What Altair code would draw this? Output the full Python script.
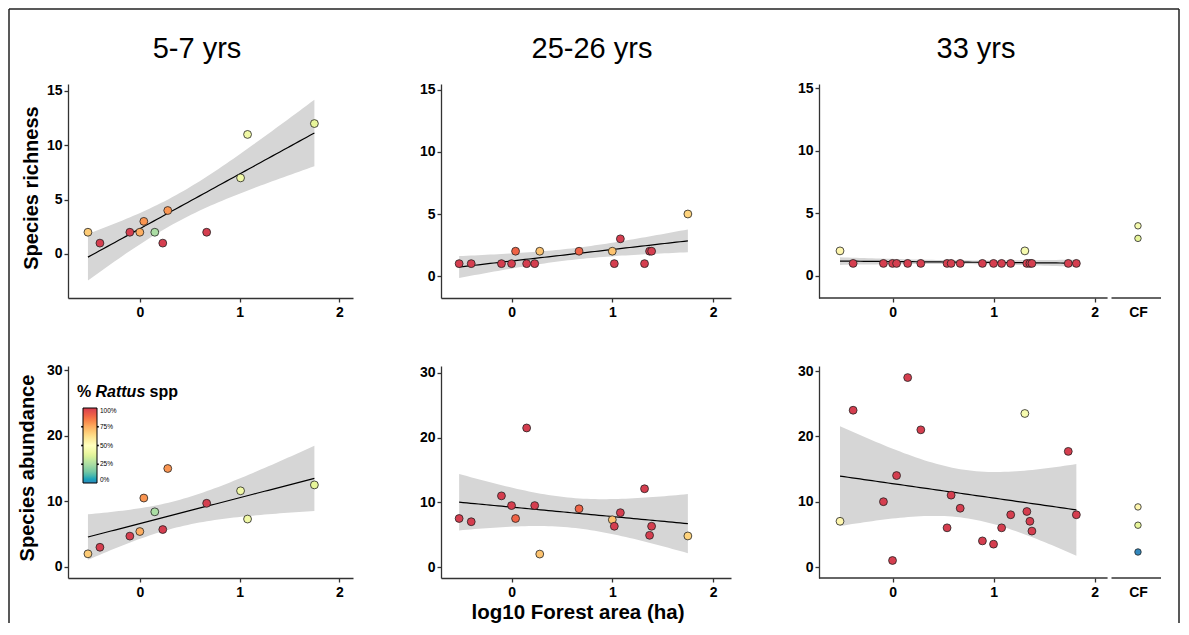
import altair as alt
import numpy as np
import pandas as pd

# ---------------- data ----------------
# 5-7 yrs sites
x_57 = [-0.52, -0.40, -0.10, 0.00, 0.04, 0.15, 0.23, 0.28, 0.67, 1.01, 1.08, 1.75]
rich_57 = [2, 1, 2, 2, 3, 2, 1, 4, 2, 7, 11, 12]
abund_57 = [2.0, 3.0, 4.7, 5.4, 10.5, 8.4, 5.7, 15.0, 9.7, 11.6, 7.3, 12.5]
rattus_57 = [68, 100, 100, 75, 80, 25, 100, 80, 100, 42, 42, 38]

# 25-26 yrs sites
x_2526 = [-0.52, -0.40, -0.10, 0.00, 0.04, 0.15, 0.23, 0.28, 0.67, 1.00, 1.02, 1.08, 1.32, 1.37, 1.39, 1.75]
rich_2526 = [1, 1, 1, 1, 2, 1, 1, 2, 2, 2, 1, 3, 1, 2, 2, 5]
abund_2526 = [7.5, 7.0, 11.0, 9.5, 7.5, 21.5, 9.5, 2.0, 9.0, 7.3, 6.3, 8.4, 12.1, 4.9, 6.3, 4.8]
rattus_2526 = [100, 100, 100, 100, 90, 100, 100, 70, 90, 70, 100, 100, 100, 100, 100, 66]

# 33 yrs sites
x_33 = [-0.52, -0.39, -0.09, 0.00, 0.04, 0.15, 0.28, 0.54, 0.58, 0.67, 0.89, 1.00, 1.08, 1.17,
        1.31, 1.33, 1.36, 1.38, 1.74, 1.82]
rich_33 = [2, 1, 1, 1, 1, 1, 1, 1, 1, 1, 1, 1, 1, 1, 2, 1, 1, 1, 1, 1]
abund_33 = [7.0, 24.0, 10.0, 1.0, 14.0, 29.0, 21.0, 6.0, 11.0, 9.0, 4.0, 3.5, 6.0, 8.0,
            23.5, 8.5, 7.0, 5.5, 17.7, 8.0]
rattus_33 = [54, 100, 100, 100, 100, 100, 100, 100, 100, 100, 100, 100, 100, 100,
             45, 100, 100, 100, 100, 100]

# continuous forest (CF) reference sites
cf_rich = [4, 3]
cf_rich_rattus = [45, 38]
cf_abund = [9.2, 6.4, 2.3]
cf_abund_rattus = [54, 38, 0]

col_titles = ["5-7 yrs", "25-26 yrs", "33 yrs"]
row_titles = ["Species richness", "Species abundance"]
x_title = "log10 Forest area (ha)"
legend_values = [0, 25, 50, 75, 100]
# ColorBrewer Spectral (9 classes), low % Rattus = blue, high = red
spectral_stops = [0, 12.5, 25, 37.5, 50, 62.5, 75, 87.5, 100]
spectral = ["#3288bd", "#66c2a5", "#abdda4", "#e6f598", "#ffffbf",
            "#fee08b", "#fdae61", "#f46d43", "#d53e4f"]

# ---------------- styling / layout constants ----------------
FONT = "Liberation Sans"
BAND = "#d6d6d6"
AX = "#333333"
CF_POS = 2.43          # axis position of the CF category
GAP_L, GAP_R = 2.129, 2.168
T975 = {10: 2.228, 14: 2.145, 18: 2.101}

COLOR_SCALE = alt.Scale(domain=spectral_stops, range=spectral)


def fit_band(xs, ys, n_grid=60):
    """Ordinary least squares fit with 95% confidence band (like geom_smooth(method='lm'))."""
    x = np.asarray(xs, float)
    y = np.asarray(ys, float)
    n = len(x)
    b, a = np.polyfit(x, y, 1)
    resid = y - (a + b * x)
    s = np.sqrt((resid ** 2).sum() / (n - 2))
    xbar = x.mean()
    sxx = ((x - xbar) ** 2).sum()
    g = np.linspace(x.min(), x.max(), n_grid)
    fit = a + b * g
    se = s * np.sqrt(1.0 / n + (g - xbar) ** 2 / sxx)
    t = T975[n - 2]
    return pd.DataFrame({"x": g, "fit": fit, "lo": fit - t * se, "hi": fit + t * se})


def x_axis(cf):
    if cf:
        return alt.Axis(values=[0, 1, 2, CF_POS], title=None, grid=False, domain=False,
                        labelExpr="datum.value > 2.2 ? 'CF' : format(datum.value, 'd')",
                        tickOpacity={"condition": {"test": "datum.value > 2.2", "value": 0}, "value": 1},
                        labelPadding=3)
    return alt.Axis(values=[0, 1, 2], format="d", title=None, grid=False, labelPadding=3)


def text_layer(label, x, y, size, weight="normal", style="normal", angle=0, align="center",
               baseline="alphabetic"):
    return alt.Chart(pd.DataFrame({"label": [label]})).mark_text(
        font=FONT, fontSize=size, fontWeight=weight, fontStyle=style, angle=angle,
        align=align, baseline=baseline, color="black"
    ).encode(x=alt.value(x), y=alt.value(y), text="label:N")


def make_panel(xs, ys, pct, xdom, ydom, yvals, w, h, cf_y=None, cf_pct=None,
               legend=None, extras=()):
    is_cf = cf_y is not None
    xsc = alt.Scale(domain=xdom, nice=False, zero=False)
    ysc = alt.Scale(domain=ydom, nice=False, zero=False)
    xax = x_axis(is_cf)
    yax = alt.Axis(values=yvals, title=None, grid=False, labelPadding=2)
    band = fit_band(xs, ys)
    pts = pd.DataFrame({"x": xs, "y": ys, "pct": pct})

    area = alt.Chart(band).mark_area(color=BAND, opacity=1).encode(
        x=alt.X("x:Q", scale=xsc, axis=xax),
        y=alt.Y("lo:Q", scale=ysc, axis=yax),
        y2="hi:Q")
    line = alt.Chart(band).mark_line(color="black", strokeWidth=1.2).encode(
        x=alt.X("x:Q", scale=xsc, axis=xax),
        y=alt.Y("fit:Q", scale=ysc, axis=yax))
    dots = alt.Chart(pts).mark_circle(size=62, opacity=1, stroke="#222222", strokeWidth=0.8).encode(
        x=alt.X("x:Q", scale=xsc, axis=xax),
        y=alt.Y("y:Q", scale=ysc, axis=yax),
        fill=alt.Fill("pct:Q", scale=COLOR_SCALE, legend=legend))
    layers = [area, line, dots]
    if is_cf:
        cfd = pd.DataFrame({"x": [CF_POS] * len(cf_y), "y": cf_y, "pct": cf_pct})
        layers.append(alt.Chart(cfd).mark_circle(size=42, opacity=1, stroke="#222222", strokeWidth=0.8).encode(
            x=alt.X("x:Q", scale=xsc, axis=xax),
            y=alt.Y("y:Q", scale=ysc, axis=yax),
            fill=alt.Fill("pct:Q", scale=COLOR_SCALE, legend=None)))
        segs = pd.DataFrame({"a": [xdom[0], GAP_R], "b": [GAP_L, xdom[1]], "y0": [ydom[0], ydom[0]]})
        layers.append(alt.Chart(segs).mark_rule(color=AX, strokeWidth=1.3).encode(
            x=alt.X("a:Q", scale=xsc, axis=xax), x2="b:Q",
            y=alt.Y("y0:Q", scale=ysc, axis=yax)))
    layers += list(extras)
    return alt.layer(*layers).properties(width=w, height=h)


W1, W2, W3 = 285, 290, 342
XD1 = [-0.72, 2.137]
XD2 = [-0.70, 2.178]
XD3 = [-0.728, 2.658]
H_TOP, H_BOT = 214, 212
FRAME_BOTTOM = 539


def rule_value(**enc):
    return alt.Chart(pd.DataFrame({"k": [0]})).mark_rule(color="#222222", strokeWidth=1.5).encode(
        **{k: alt.value(v) for k, v in enc.items()})


frame = [
    rule_value(x=-59, x2=1111, y=-75),
    rule_value(x=-59, y=-75, y2=FRAME_BOTTOM),
    rule_value(x=1111, y=-75, y2=FRAME_BOTTOM),
]

# legend gradient geometry (inside the lower-left panel)
LG_X, LG_Y, LG_LEN, LG_TH = 15, 42, 75, 14
legend = alt.Legend(orient="none", legendX=LG_X, legendY=LG_Y, title=None, direction="vertical",
                    gradientLength=LG_LEN, gradientThickness=LG_TH, gradientStrokeColor="black",
                    gradientStrokeWidth=1, labelFont=FONT, labelFontSize=6.5, labelColor="black",
                    labelOffset=3, values=legend_values, labelExpr="datum.value + '%'",
                    padding=0, labelOverlap=False)
# little black tick marks on both edges of the colour bar, at the legend values
legend_ticks = []
for v in legend_values[1:-1]:
    ty = LG_Y + LG_LEN * (1 - v / 100)
    for edge in (LG_X, LG_X + LG_TH):
        legend_ticks.append(alt.Chart(pd.DataFrame({"k": [0]})).mark_rule(
            color="black", strokeWidth=1.6).encode(
            x=alt.value(edge - 1.8), x2=alt.value(edge + 1.8), y=alt.value(ty)))

p1 = make_panel(x_57, rich_57, rattus_57, XD1, [-4.05, 15.64], [0, 5, 10, 15], W1, H_TOP,
                extras=[text_layer(col_titles[0], 129, -26, 29),
                        text_layer(row_titles[0], -30, 104, 20, weight="bold", angle=270)] + frame)
p2 = make_panel(x_2526, rich_2526, rattus_2526, XD2, [-1.77, 15.48], [0, 5, 10, 15], W2, H_TOP,
                extras=[text_layer(col_titles[1], 151, -26, 29)])
p3 = make_panel(x_33, rich_33, rattus_33, XD3, [-1.76, 15.32], [0, 5, 10, 15], W3, H_TOP,
                cf_y=cf_rich, cf_pct=cf_rich_rattus,
                extras=[text_layer(col_titles[2], 157, -26, 29)])
p4 = make_panel(x_57, abund_57, rattus_57, XD1, [-1.68, 30.61], [0, 10, 20, 30], W1, H_BOT,
                legend=legend,
                extras=[text_layer(row_titles[1], -34, 102, 20, weight="bold", angle=270),
                        text_layer("%", 9, 31, 16, weight="bold", align="left"),
                        text_layer("Rattus", 27.5, 31, 16, weight="bold", style="italic", align="left"),
                        text_layer("spp", 81.5, 31, 16, weight="bold", align="left")] + legend_ticks)
p5 = make_panel(x_2526, abund_2526, rattus_2526, XD2, [-1.70, 31.08], [0, 10, 20, 30], W2, H_BOT,
                extras=[text_layer(x_title, 137, 253, 20.5, weight="bold")])
p6 = make_panel(x_33, abund_33, rattus_33, XD3, [-1.68, 30.77], [0, 10, 20, 30], W3, H_BOT,
                cf_y=cf_abund, cf_pct=cf_abund_rattus)

chart = alt.concat(
    p1, p2, p3, p4, p5, p6, columns=3,
    spacing={"row": 68, "column": 88}, bounds="flush", align="each"
).resolve_scale(
    x="independent", y="independent", fill="independent"
).resolve_legend(fill="independent").properties(
    padding=0, background="white"
).configure_view(stroke=None).configure_axis(
    domainColor=AX, domainWidth=1.3, tickColor=AX, tickWidth=1.3, tickSize=4,
    labelFont=FONT, labelFontSize=14, labelFontWeight="bold", labelColor="black", grid=False
).configure_text(font=FONT)

chart.save("out.html", embed_options={"renderer": "svg", "actions": False})
